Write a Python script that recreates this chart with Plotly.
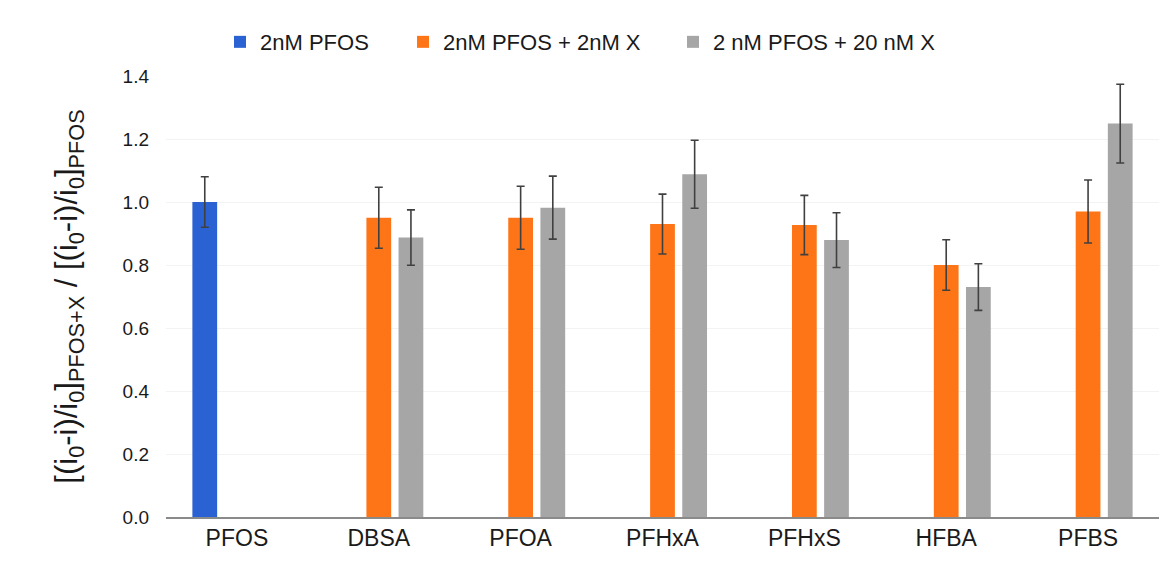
import plotly.graph_objects as go

categories = ["PFOS", "DBSA", "PFOA", "PFHxA", "PFHxS", "HFBA", "PFBS"]

pfos_vals = [1.00, None, None, None, None, None, None]
pfos_err = [0.08, 0, 0, 0, 0, 0, 0]

x2_vals = [None, 0.95, 0.95, 0.93, 0.927, 0.80, 0.97]
x2_err = [0, 0.097, 0.10, 0.095, 0.094, 0.08, 0.10]

x20_vals = [None, 0.887, 0.982, 1.088, 0.879, 0.73, 1.249]
x20_err = [0, 0.088, 0.10, 0.108, 0.087, 0.074, 0.125]

series_names = ["2nM PFOS", "2nM PFOS + 2nM X", "2 nM PFOS + 20 nM X"]
colors = ["#2a62d3", "#fe7518", "#a6a6a6"]
legend_ids = ["legend", "legend2", "legend3"]
legend_x = [0.0544, 0.2387, 0.5106]

fig = go.Figure()
for name, vals, err, col, lid in zip(series_names, [pfos_vals, x2_vals, x20_vals],
                                     [pfos_err, x2_err, x20_err], colors, legend_ids):
    fig.add_trace(go.Bar(
        x=categories, y=vals, name=name, legend=lid,
        marker=dict(color=col, line=dict(width=0)),
        error_y=dict(type="data", array=err, visible=True,
                     color="#404040", thickness=1.6, width=4),
    ))

legend_style = dict(orientation="h", xanchor="left", y=1.077, yanchor="middle",
                    font=dict(size=22), itemwidth=30, bgcolor="rgba(0,0,0,0)")

fig.update_layout(
    width=1161, height=577,
    margin=dict(l=166, r=2, t=76, b=60),
    barmode="group", bargap=0.32, bargroupgap=0.23,
    plot_bgcolor="white", paper_bgcolor="white",
    font=dict(family="Liberation Sans, Arial, sans-serif", size=19, color="#1a1a1a"),
    legend=dict(x=legend_x[0], **legend_style),
    legend2=dict(x=legend_x[1], **legend_style),
    legend3=dict(x=legend_x[2], **legend_style),
    showlegend=True,
)
fig.update_xaxes(showline=True, linecolor="#8a8a8a", linewidth=1.5, ticks="",
                 tickfont=dict(size=23), showgrid=False)
fig.update_yaxes(range=[0, 1.4], dtick=0.2, tickformat=".1f", showgrid=True,
                 gridcolor="#f3f3f3", gridwidth=1, zeroline=False, showline=False,
                 ticks="", ticklabelstandoff=16, tickfont=dict(size=19),
                 title=dict(text="[(i<sub>0</sub>-i)/i<sub>0</sub>]<sub>PFOS+X</sub> / [(i<sub>0</sub>-i)/i<sub>0</sub>]<sub>PFOS</sub>",
                            font=dict(size=31), standoff=35))

fig.write_html("out.html")
